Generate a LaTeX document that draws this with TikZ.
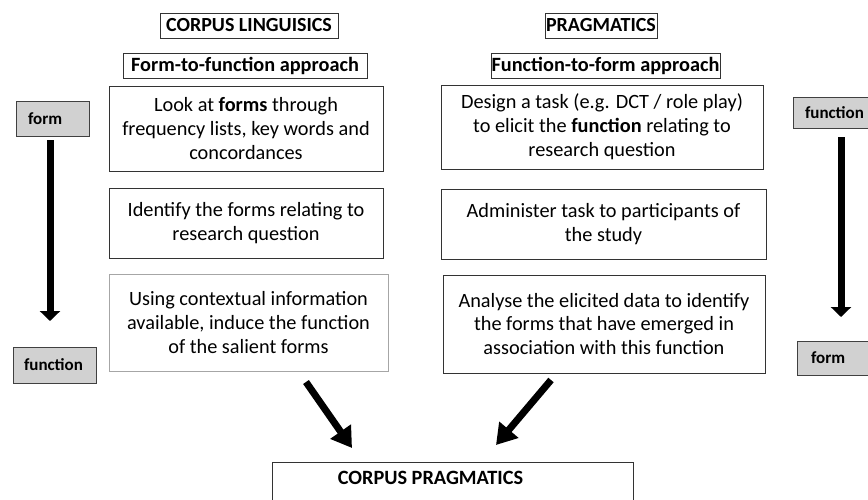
\documentclass[tikz,border=0pt]{standalone}
\usepackage{fontspec}
\setmainfont{Carlito}
\usetikzlibrary{arrows.meta, positioning, calc}
\tikzset{
  box/.style={draw=black!80, line width=0.9pt, align=center, inner sep=0pt, font=\fontsize{20.3}{23.8}\selectfont},
  hdr/.style={draw=black!80, line width=0.9pt, inner sep=0pt, minimum height=25, font=\fontsize{20}{22}\selectfont\bfseries},
  gbox/.style={draw=black!75, fill=black!18, line width=0.9pt, align=left, inner xsep=12pt, inner ysep=0pt, font=\fontsize{17}{19}\selectfont\bfseries},
  down/.style={line width=7pt, -{Triangle[length=10pt, width=20pt]}},
  slant/.style={line width=7pt, -{Triangle[length=20pt, width=24pt]}}
}

\begin{document}
\begin{tikzpicture}[x=1pt, y=-1pt]
		\useasboundingbox (0,0) rectangle (868,499);
		\clip (0,0) rectangle (868,499);
		% headings
		\node[hdr, minimum width=178] (cl) at (249,25.5) {CORPUS LINGUISICS};
		\node[hdr, minimum width=112] (pr) at (601,25.5) {PRAGMATICS};
		\node[hdr, minimum width=244, font=\fontsize{20.3}{22}\selectfont\bfseries] (ff) at (245,65.5) {Form-to-function approach};
		\node[hdr, minimum width=229, font=\fontsize{20.3}{22}\selectfont\bfseries] (fn) at (605.5,65.5) {Function-to-form approach};
		% corpus linguistics steps
		\node[box, minimum width=274, minimum height=85] (l1) at (246,128.5) {Look at \textbf{forms} through\\frequency lists, key words and\\concordances};
		\node[box, minimum width=274, minimum height=70] (l2) at (246,223) {Identify the forms relating to\\research question};
		\node[box, draw=black!35, minimum width=279, minimum height=97] (l3) at (248.5,322.5) {Using contextual information\\available, induce the function\\of the salient forms};
		% pragmatics steps
		\node[box, minimum width=322, minimum height=84] (r1) at (602,127) {Design a task (e.g. DCT / role play)\\to elicit the \textbf{function} relating to\\research question};
		\node[box, minimum width=325, minimum height=70] (r2) at (603.5,224) {Administer task to participants of\\the study};
		\node[box, minimum width=322, minimum height=98] (r3) at (604,324) {Analyse the elicited data to identify\\the forms that have emerged in\\association with this function};
		% side labels
		\node[gbox, text width=49, minimum height=35] (fl) at (52.5,118.5) {form};
		\node[gbox, text width=61, minimum height=36, inner xsep=11pt] (nl) at (54.5,365) {function};
		\node[gbox, text width=64, minimum height=31] (nr) at (837,112.5) {function};
		\node[gbox, text width=64, minimum height=34, inner xsep=14pt] (frr) at (843,358) {form};
		% result
		\node[box, minimum width=361, minimum height=60, anchor=north] (cp) at (452.5,462) {};
		\node[font=\fontsize{20.3}{22}\selectfont\bfseries, inner sep=0pt] (cplab) at (430.5,478) {CORPUS PRAGMATICS};
		% arrows
		\coordinate (la) at (50,140);
		\coordinate (lb) at (50,321);
		\coordinate (ra) at (841,137);
		\coordinate (rb) at (841,317);
		\coordinate (ma) at (306,382);
		\coordinate (mb) at (352,448);
		\coordinate (na) at (551,380);
		\coordinate (nb) at (496,445);
		\draw[down] (la) -- (lb);
		\draw[down] (ra) -- (rb);
		\draw[slant] (ma) -- (mb);
		\draw[slant] (na) -- (nb);
	\end{tikzpicture}
\end{document}
